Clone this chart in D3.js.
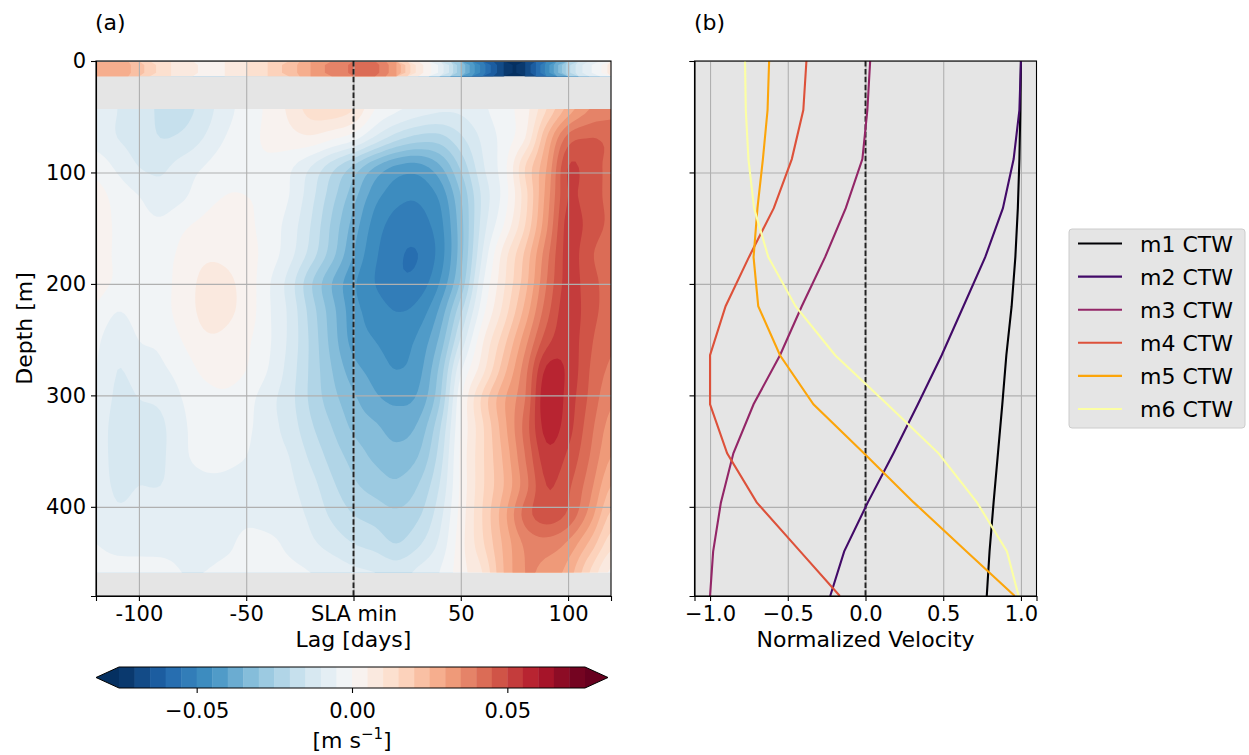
<!DOCTYPE html>
<html lang="en">
<head>
<meta charset="UTF-8">
<title>Lagged velocity composite and CTW mode structure</title>
<script src="https://cdn.jsdelivr.net/npm/d3@7"></script>
<style>
  body { margin: 0; background: #fff; }
  text { font-family: "DejaVu Sans", sans-serif; font-size: 22px; fill: #000; }
  .grid line { stroke: #b0b0b0; stroke-width: 1.1; }
  .grid path { display: none; }
  .ax path, .ax line { stroke: #000; stroke-width: 1.1; }
</style>
</head>
<body>
<script>
// ---------------- data ----------------
// composite velocity, grid columns = lag (days), rows = depth (m), values in mm/s
var lags = [-120, -110, -100, -90, -80, -70, -60, -50, -40, -30, -20, -10, 0,
            10, 20, 30, 40, 50, 60, 70, 80, 90, 100, 110, 120];
var depths = [43, 69, 95, 121, 147, 173, 199, 225, 251, 277, 303, 329, 355, 381, 407, 433, 459];
var velocity = [
  [-7,-10,-12,-16,-17,-13,-7,-3,1,6,12,13,10,0,-4,-7,-9,-9,-6,-2,3,15,27,35,38],
  [-7,-10,-12,-15,-14,-10,-5,-2,1,3,4,1,-3,-11,-18,-22,-22,-16,-9,-3,5,25,42,45,44],
  [-2,-6,-10,-11,-8,-5,-2,-1,-1,-4,-10,-18,-26,-35,-41,-42,-36,-24,-11,-2,15,30,50,47,44],
  [2,-2,-5,-8,-6,-2,0,0,-1,-5,-13,-23,-33,-43,-48,-49,-44,-30,-14,-3,13,32,50,47,44],
  [3,-1,-3,-4,-1,1,2,1,-2,-7,-15,-26,-37,-47,-52,-52,-47,-32,-13,0,15,34,52,48,44],
  [3,-1,-2,-2,1,4,4,2,-2,-8,-17,-28,-40,-49,-54,-55,-48,-32,-10,7,21,38,52,46,42],
  [2,-1,-3,-2,2,6,6,3,-4,-12,-24,-35,-44,-50,-54,-53,-45,-29,-6,9,23,40,52,47,43],
  [-1,-5,-3,-2,2,6,6,3,-4,-11,-22,-33,-43,-47,-50,-48,-39,-21,-2,12,27,43,53,47,43],
  [-4,-9,-5,-4,0,4,4,1,-4,-11,-21,-32,-42,-45,-47,-44,-34,-14,4,18,33,48,53,46,41],
  [-5,-10,-8,-6,-3,1,2,0,-5,-12,-21,-30,-38,-42,-45,-42,-29,-6,8,23,38,56,54,45,39],
  [-6,-11,-10,-9,-5,-2,-1,-3,-8,-13,-21,-28,-34,-39,-41,-39,-26,-1,16,29,40,59,53,44,36],
  [-7,-12,-11,-11,-6,-3,-3,-4,-8,-12,-19,-25,-31,-34,-37,-34,-21,0,14,28,42,57,52,42,33],
  [-7,-12,-11,-11,-6,-4,-4,-5,-8,-10,-16,-22,-27,-31,-33,-30,-18,1,14,26,40,53,49,40,30],
  [-7,-11,-10,-10,-7,-6,-6,-7,-8,-9,-13,-19,-24,-27,-29,-25,-15,1,14,25,38,50,46,37,25],
  [-6,-9,-8,-7,-7,-7,-7,-6,-7,-8,-11,-16,-20,-22,-24,-21,-12,2,15,28,42,48,44,33,19],
  [-5,-6,-6,-6,-6,-7,-6,-4,-4,-6,-9,-12,-15,-17,-20,-16,-9,3,14,26,36,38,34,24,12],
  [-4,-4,-4,-4,-5,-5,-4,-4,-4,-4,-5,-7,-9,-10,-12,-9,-5,3,10,25,35,33,28,15,4]
];
// surface strip (0-14 m), mm/s, every 5 days
var surfaceLags = d3.range(-120, 121, 5);
var surfaceVel = [28,28,27,26,22,18,13,10,7,6,4,3,5,8,10,12,15,19,22,26,30,34,37,39,41,
                  43,42,37,30,18,8,2,-6,-16,-30,-42,-52,-62,-70,-76,-70,-60,-48,-36,-22,-12,-6,-1,8];
var surfaceDepth = [0, 14];
var levels = d3.range(-75, 76, 5);          // contour levels, mm/s
var cbarTicks = [-0.05, 0, 0.05];
var lagTicks = [-100, -50, 0, 50, 100];
var lagTickLabels = ["-100", "-50", "SLA min", "50", "100"];
var depthTicks = [0, 100, 200, 300, 400];

// normalised CTW mode profiles
var modeDepths = [0, 44, 88, 132, 176, 220, 264, 308, 352, 396, 440, 480];
var m1 = [1.0, 0.996, 0.99, 0.98, 0.964, 0.94, 0.906, 0.88, 0.852, 0.824, 0.798, 0.78];
var m2 = [1.0, 0.99, 0.953, 0.884, 0.77, 0.63, 0.49, 0.337, 0.18, 0.015, -0.137, -0.227];
var m3 = [0.03, 0.012, -0.02, -0.127, -0.26, -0.41, -0.55, -0.72, -0.85, -0.93, -0.98, -1.0];
var m4 = [-0.38, -0.40, -0.474, -0.59, -0.75, -0.9, -1.0, -1.0, -0.89, -0.70, -0.42, -0.165];
var m5 = [-0.62, -0.63, -0.66, -0.695, -0.72, -0.69, -0.55, -0.335, -0.01, 0.31, 0.65, 0.96];
var m6 = [-0.775, -0.77, -0.753, -0.717, -0.625, -0.45, -0.195, 0.14, 0.47, 0.717, 0.91, 0.985];
var modes = [m1, m2, m3, m4, m5, m6];
var modeNames = ["m1 CTW", "m2 CTW", "m3 CTW", "m4 CTW", "m5 CTW", "m6 CTW"];
var velTicks = [-1, -0.5, 0, 0.5, 1];

// ---------------- layout ----------------
var svg = d3.select("body").append("svg").attr("width", 1249).attr("height", 755);

var xA = d3.scaleLinear().domain([-120, 120]).range([96, 611]);
var yA = d3.scaleLinear().domain([0, 480]).range([61, 596]);
var xB = d3.scaleLinear().domain([-1.1, 1.1]).range([694.5, 1036.5]);
var cbX = d3.scaleLinear().domain([-0.075, 0.075]).range([119, 585]);
var tickFont = "21px";

// RdBu (matplotlib), reversed below
var rdbu = d3.scaleLinear()
    .domain(d3.range(11).map(function(i) { return i / 10; }))
    .range(["#67001f", "#b2182b", "#d6604d", "#f4a582", "#fddbc7", "#f7f7f7",
            "#d1e5f0", "#92c5de", "#4393c3", "#2166ac", "#053061"]);
var lo = levels[0], hi = levels[levels.length - 1], step = levels[1] - levels[0];

function bandColor(t) {
    if (t < lo) return rdbu(1);
    if (t >= hi) return rdbu(0);
    return rdbu(1 - (t + step / 2 - lo) / (hi - lo));
}

// catmull-rom upsampling so the filled bands come out smooth
function cubic(p0, p1, p2, p3, t) {
    return p1 + 0.5 * t * (p2 - p0 + t * (2 * p0 - 5 * p1 + 4 * p2 - p3 + t * (3 * (p1 - p2) + p3 - p0)));
}
function refine(grid, k) {
    var ny = grid.length, nx = grid[0].length;
    var NX = (nx - 1) * k + 1, NY = (ny - 1) * k + 1, out = new Array(NX * NY);
    function at(j, i) {
        return grid[Math.max(0, Math.min(ny - 1, j))][Math.max(0, Math.min(nx - 1, i))];
    }
    for (var J = 0; J < NY; J++) {
        for (var I = 0; I < NX; I++) {
            var i = Math.min(Math.floor(I / k), nx - 2), j = Math.min(Math.floor(J / k), ny - 2);
            var tx = I / k - i, ty = J / k - j;
            var r = [-1, 0, 1, 2].map(function(dj) {
                return cubic(at(j + dj, i - 1), at(j + dj, i), at(j + dj, i + 1), at(j + dj, i + 2), tx);
            });
            out[J * NX + I] = cubic(r[0], r[1], r[2], r[3], ty);
        }
    }
    return { values: out, nx: NX, ny: NY };
}

function drawBands(g, values, nx, ny, toLag, toDepth) {
    var bands = d3.contours().size([nx, ny]).thresholds([-1000].concat(levels))(values);
    var path = d3.geoPath(d3.geoTransform({
        point: function(x, y) { this.stream.point(xA(toLag(x)), yA(toDepth(y))); }
    }));
    g.selectAll("path").data(bands).enter().append("path")
        .attr("d", path)
        .attr("fill", function(d) { return bandColor(d.value); });
}

// ---------------- panel (a) ----------------
var gA = svg.append("g");
gA.append("rect")
    .attr("x", xA(-120)).attr("y", yA(0))
    .attr("width", xA(120) - xA(-120)).attr("height", yA(480) - yA(0))
    .attr("fill", "#e5e5e5");

var defs = svg.append("defs");
defs.append("clipPath").attr("id", "clipField").append("rect")
    .attr("x", xA(lags[0])).attr("y", yA(depths[0]))
    .attr("width", xA(lags[lags.length - 1]) - xA(lags[0]))
    .attr("height", yA(depths[depths.length - 1]) - yA(depths[0]));
defs.append("clipPath").attr("id", "clipStrip").append("rect")
    .attr("x", xA(surfaceLags[0])).attr("y", yA(surfaceDepth[0]))
    .attr("width", xA(surfaceLags[surfaceLags.length - 1]) - xA(surfaceLags[0]))
    .attr("height", yA(surfaceDepth[1]) - yA(surfaceDepth[0]));

var K = 6;
var fine = refine(velocity, K);
var dLag = (lags[1] - lags[0]) / K, dDep = (depths[1] - depths[0]) / K;
drawBands(gA.append("g").attr("clip-path", "url(#clipField)"), fine.values, fine.nx, fine.ny,
    function(x) { return lags[0] + (x - 0.5) * dLag; },
    function(y) { return depths[0] + (y - 0.5) * dDep; });

var stripGrid = surfaceVel.concat(surfaceVel);
drawBands(gA.append("g").attr("clip-path", "url(#clipStrip)"), stripGrid, surfaceVel.length, 2,
    function(x) { return surfaceLags[0] + (x - 0.5) * (surfaceLags[1] - surfaceLags[0]); },
    function(y) { return surfaceDepth[0] + y / 2 * (surfaceDepth[1] - surfaceDepth[0]); });

// grid
gA.append("g").attr("class", "grid").attr("transform", "translate(0," + yA(480) + ")")
    .call(d3.axisBottom(xA).tickValues(lagTicks).tickSize(-(yA(480) - yA(0))).tickFormat(""));
gA.append("g").attr("class", "grid").attr("transform", "translate(" + xA(-120) + ",0)")
    .call(d3.axisLeft(yA).tickValues(depthTicks).tickSize(-(xA(120) - xA(-120))).tickFormat(""));

gA.append("line")
    .attr("x1", xA(0)).attr("x2", xA(0)).attr("y1", yA(0)).attr("y2", yA(480))
    .attr("stroke", "#222").attr("stroke-width", 1.9).attr("stroke-dasharray", "5.5,2.4");

gA.append("g").attr("class", "ax").attr("transform", "translate(0," + yA(480) + ")")
    .call(d3.axisBottom(xA).tickValues(lagTicks).tickSize(5).tickPadding(5)
        .tickFormat(function(d, i) { return lagTickLabels[i]; }));
gA.append("g").attr("class", "ax").attr("transform", "translate(" + xA(-120) + ",0)")
    .call(d3.axisLeft(yA).tickValues(depthTicks).tickSize(5).tickPadding(5));
gA.selectAll(".ax text").style("font-size", tickFont).style("font-family", "DejaVu Sans");

gA.append("rect")
    .attr("x", xA(-120)).attr("y", yA(0))
    .attr("width", xA(120) - xA(-120)).attr("height", yA(480) - yA(0))
    .attr("fill", "none").attr("stroke", "#000").attr("stroke-width", 1.1);

svg.append("text").attr("x", 95).attr("y", 30).text("(a)");
svg.append("text").attr("x", (xA(-120) + xA(120)) / 2).attr("y", 647)
    .attr("text-anchor", "middle").text("Lag [days]");
svg.append("text")
    .attr("transform", "translate(32," + (yA(0) + yA(480)) / 2 + ") rotate(-90)")
    .attr("text-anchor", "middle").text("Depth [m]");

// ---------------- colour bar ----------------
var cbTop = 667, cbH = 21;
var cb = svg.append("g");
cb.selectAll("rect.seg").data(levels.slice(0, -1)).enter().append("rect")
    .attr("class", "seg")
    .attr("x", function(d) { return cbX(d / 1000); })
    .attr("width", function(d) { return cbX((d + step) / 1000) - cbX(d / 1000) + 0.4; })
    .attr("y", cbTop).attr("height", cbH)
    .attr("fill", function(d) { return bandColor(d); });
var tipL = cbX(-0.075) - 23, tipR = cbX(0.075) + 23;
cb.append("path")
    .attr("d", "M" + cbX(-0.075) + "," + cbTop + "L" + tipL + "," + (cbTop + cbH / 2) +
               "L" + cbX(-0.075) + "," + (cbTop + cbH) + "Z")
    .attr("fill", bandColor(-1000));
cb.append("path")
    .attr("d", "M" + cbX(0.075) + "," + cbTop + "L" + tipR + "," + (cbTop + cbH / 2) +
               "L" + cbX(0.075) + "," + (cbTop + cbH) + "Z")
    .attr("fill", bandColor(1000));
cb.append("path")
    .attr("d", "M" + cbX(-0.075) + "," + cbTop + "L" + cbX(0.075) + "," + cbTop +
               "L" + tipR + "," + (cbTop + cbH / 2) + "L" + cbX(0.075) + "," + (cbTop + cbH) +
               "L" + cbX(-0.075) + "," + (cbTop + cbH) + "L" + tipL + "," + (cbTop + cbH / 2) + "Z")
    .attr("fill", "none").attr("stroke", "#000").attr("stroke-width", 1);
cb.append("g").attr("class", "ax").attr("transform", "translate(0," + (cbTop + cbH) + ")")
    .call(d3.axisBottom(cbX).tickValues(cbarTicks).tickSize(5).tickPadding(10).tickFormat(d3.format(".2f")))
    .call(function(g) { g.select(".domain").remove(); });
cb.selectAll("text").style("font-size", tickFont).style("font-family", "DejaVu Sans");
var unit = svg.append("text").attr("x", (cbX(-0.075) + cbX(0.075)) / 2).attr("y", 748)
    .attr("text-anchor", "middle");
unit.append("tspan").text("[m s");
unit.append("tspan").attr("dy", -9).style("font-size", "15px").text("\u22121");
unit.append("tspan").attr("dy", 9).text("]");

// ---------------- panel (b) ----------------
var gB = svg.append("g");
gB.append("rect")
    .attr("x", xB(-1.1)).attr("y", yA(0))
    .attr("width", xB(1.1) - xB(-1.1)).attr("height", yA(480) - yA(0))
    .attr("fill", "#e5e5e5");
gB.append("g").attr("class", "grid").attr("transform", "translate(0," + yA(480) + ")")
    .call(d3.axisBottom(xB).tickValues(velTicks).tickSize(-(yA(480) - yA(0))).tickFormat(""));
gB.append("g").attr("class", "grid").attr("transform", "translate(" + xB(-1.1) + ",0)")
    .call(d3.axisLeft(yA).tickValues(depthTicks).tickSize(-(xB(1.1) - xB(-1.1))).tickFormat(""));

gB.append("line")
    .attr("x1", xB(0)).attr("x2", xB(0)).attr("y1", yA(0)).attr("y2", yA(480))
    .attr("stroke", "#222").attr("stroke-width", 1.9).attr("stroke-dasharray", "5.5,2.4");

var modeColor = function(i) { return d3.interpolateInferno(i / (modes.length - 1)); };
var line = d3.line()
    .x(function(v) { return xB(v); })
    .y(function(v, i) { return yA(modeDepths[i]); });
gB.append("g").selectAll("path").data(modes).enter().append("path")
    .attr("d", line)
    .attr("fill", "none")
    .attr("stroke", function(d, i) { return modeColor(i); })
    .attr("stroke-width", 2.1);

gB.append("g").attr("class", "ax").attr("transform", "translate(0," + yA(480) + ")")
    .call(d3.axisBottom(xB).tickValues(velTicks).tickSize(5).tickPadding(5).tickFormat(d3.format(".1f")));
gB.append("g").attr("class", "ax").attr("transform", "translate(" + xB(-1.1) + ",0)")
    .call(d3.axisLeft(yA).tickValues(depthTicks).tickSize(5).tickFormat(""));
gB.selectAll(".ax text").style("font-size", tickFont).style("font-family", "DejaVu Sans");
gB.append("rect")
    .attr("x", xB(-1.1)).attr("y", yA(0))
    .attr("width", xB(1.1) - xB(-1.1)).attr("height", yA(480) - yA(0))
    .attr("fill", "none").attr("stroke", "#000").attr("stroke-width", 1.1);

svg.append("text").attr("x", 694).attr("y", 30).text("(b)");
svg.append("text").attr("x", (xB(-1.1) + xB(1.1)) / 2).attr("y", 647)
    .attr("text-anchor", "middle").text("Normalized Velocity");

// legend
var lg = svg.append("g").attr("transform", "translate(1069,229)");
lg.append("rect").attr("width", 176).attr("height", 199).attr("rx", 3)
    .attr("fill", "#e5e5e5").attr("stroke", "#cccccc").attr("stroke-width", 1);
var row = lg.selectAll("g.row").data(modeNames).enter().append("g")
    .attr("class", "row")
    .attr("transform", function(d, i) { return "translate(0," + (14.5 + i * 33.1) + ")"; });
row.append("line").attr("x1", 9).attr("x2", 53)
    .attr("stroke", function(d, i) { return modeColor(i); }).attr("stroke-width", 2.1);
row.append("text").attr("x", 71).attr("y", 8).text(function(d) { return d; });
</script>
</body>
</html>
